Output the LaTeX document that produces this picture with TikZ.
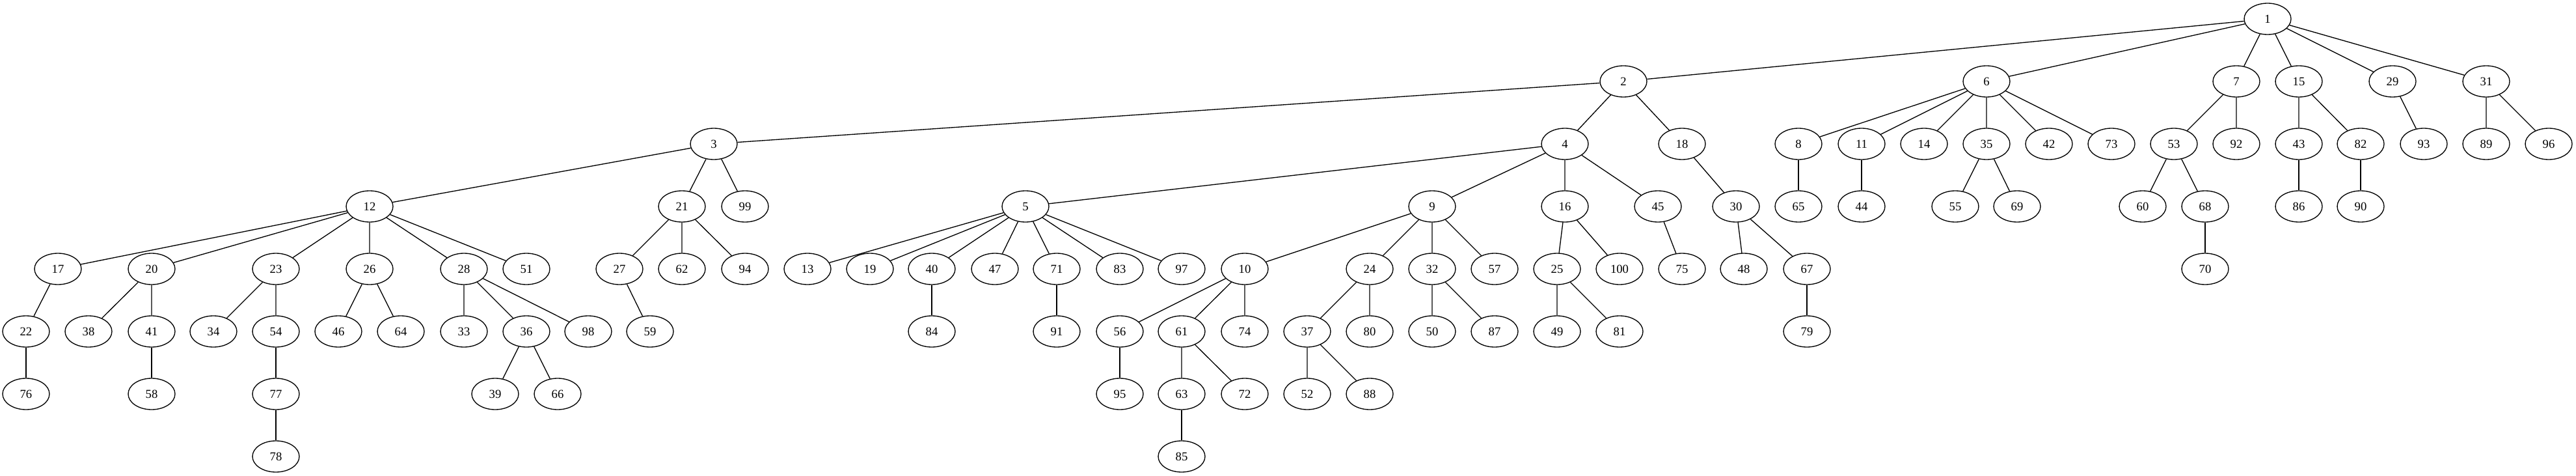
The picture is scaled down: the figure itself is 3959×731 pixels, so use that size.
\documentclass[tikz,border=0pt]{standalone}
\usepackage{fontspec}
\setmainfont{Liberation Serif}
\usetikzlibrary{shapes.geometric}

\begin{document}
\begin{tikzpicture}[
    x=0.75pt, y=-0.75pt,
    vertex/.style={ellipse, draw, line width=1pt, minimum width=54pt, minimum height=36pt, inner sep=0pt, font=\fontsize{14pt}{16pt}\selectfont},
    link/.style={draw, line width=1pt}
  ]
  \useasboundingbox (0,0) rectangle (3959,731);

  % Level 0
  \node (n1) [vertex] at (3485,29) {1};

  % Level 1
  \node (n2) [vertex] at (2495,125) {2};
  \node (n6) [vertex] at (3053,125) {6};
  \node (n7) [vertex] at (3437,125) {7};
  \node (n15) [vertex] at (3533,125) {15};
  \node (n29) [vertex] at (3677,125) {29};
  \node (n31) [vertex] at (3821,125) {31};

  % Level 2
  \node (n3) [vertex] at (1097,221) {3};
  \node (n4) [vertex] at (2405,221) {4};
  \node (n18) [vertex] at (2585,221) {18};
  \node (n8) [vertex] at (2764,221) {8};
  \node (n11) [vertex] at (2861,221) {11};
  \node (n14) [vertex] at (2957,221) {14};
  \node (n35) [vertex] at (3053,221) {35};
  \node (n42) [vertex] at (3149,221) {42};
  \node (n73) [vertex] at (3245,221) {73};
  \node (n53) [vertex] at (3341,221) {53};
  \node (n92) [vertex] at (3437,221) {92};
  \node (n43) [vertex] at (3533,221) {43};
  \node (n82) [vertex] at (3628,221) {82};
  \node (n93) [vertex] at (3725,221) {93};
  \node (n89) [vertex] at (3821,221) {89};
  \node (n96) [vertex] at (3917,221) {96};

  % Level 3
  \node (n12) [vertex] at (568,317) {12};
  \node (n21) [vertex] at (1048,317) {21};
  \node (n99) [vertex] at (1145,317) {99};
  \node (n5) [vertex] at (1576,317) {5};
  \node (n9) [vertex] at (2201,317) {9};
  \node (n16) [vertex] at (2405,317) {16};
  \node (n45) [vertex] at (2548,317) {45};
  \node (n30) [vertex] at (2668,317) {30};
  \node (n65) [vertex] at (2764,317) {65};
  \node (n44) [vertex] at (2861,317) {44};
  \node (n55) [vertex] at (3005,317) {55};
  \node (n69) [vertex] at (3100,317) {69};
  \node (n60) [vertex] at (3293,317) {60};
  \node (n68) [vertex] at (3389,317) {68};
  \node (n86) [vertex] at (3533,317) {86};
  \node (n90) [vertex] at (3628,317) {90};

  % Level 4
  \node (n17) [vertex] at (89,413) {17};
  \node (n20) [vertex] at (233,413) {20};
  \node (n23) [vertex] at (424,413) {23};
  \node (n26) [vertex] at (568,413) {26};
  \node (n28) [vertex] at (713,413) {28};
  \node (n51) [vertex] at (809,413) {51};
  \node (n27) [vertex] at (952,413) {27};
  \node (n62) [vertex] at (1048,413) {62};
  \node (n94) [vertex] at (1145,413) {94};
  \node (n13) [vertex] at (1241,413) {13};
  \node (n19) [vertex] at (1337,413) {19};
  \node (n40) [vertex] at (1432,413) {40};
  \node (n47) [vertex] at (1529,413) {47};
  \node (n71) [vertex] at (1624,413) {71};
  \node (n83) [vertex] at (1721,413) {83};
  \node (n97) [vertex] at (1816,413) {97};
  \node (n10) [vertex] at (1913,413) {10};
  \node (n24) [vertex] at (2105,413) {24};
  \node (n32) [vertex] at (2201,413) {32};
  \node (n57) [vertex] at (2297,413) {57};
  \node (n25) [vertex] at (2393,413) {25};
  \node (n100) [vertex] at (2489,413) {100};
  \node (n75) [vertex] at (2585,413) {75};
  \node (n48) [vertex] at (2680,413) {48};
  \node (n67) [vertex] at (2777,413) {67};
  \node (n70) [vertex] at (3389,413) {70};

  % Level 5
  \node (n22) [vertex] at (40,509) {22};
  \node (n38) [vertex] at (136,509) {38};
  \node (n41) [vertex] at (233,509) {41};
  \node (n34) [vertex] at (328,509) {34};
  \node (n54) [vertex] at (424,509) {54};
  \node (n46) [vertex] at (520,509) {46};
  \node (n64) [vertex] at (616,509) {64};
  \node (n33) [vertex] at (713,509) {33};
  \node (n36) [vertex] at (809,509) {36};
  \node (n98) [vertex] at (904,509) {98};
  \node (n59) [vertex] at (999,509) {59};
  \node (n84) [vertex] at (1432,509) {84};
  \node (n91) [vertex] at (1624,509) {91};
  \node (n56) [vertex] at (1721,509) {56};
  \node (n61) [vertex] at (1816,509) {61};
  \node (n74) [vertex] at (1913,509) {74};
  \node (n37) [vertex] at (2009,509) {37};
  \node (n80) [vertex] at (2105,509) {80};
  \node (n50) [vertex] at (2201,509) {50};
  \node (n87) [vertex] at (2297,509) {87};
  \node (n49) [vertex] at (2393,509) {49};
  \node (n81) [vertex] at (2489,509) {81};
  \node (n79) [vertex] at (2777,509) {79};

  % Level 6
  \node (n76) [vertex] at (40,605) {76};
  \node (n58) [vertex] at (233,605) {58};
  \node (n77) [vertex] at (424,605) {77};
  \node (n39) [vertex] at (761,605) {39};
  \node (n66) [vertex] at (857,605) {66};
  \node (n95) [vertex] at (1721,605) {95};
  \node (n63) [vertex] at (1816,605) {63};
  \node (n72) [vertex] at (1913,605) {72};
  \node (n52) [vertex] at (2009,605) {52};
  \node (n88) [vertex] at (2105,605) {88};

  % Level 7
  \node (n78) [vertex] at (424,701) {78};
  \node (n85) [vertex] at (1816,701) {85};

  % Edges
  \draw [link] (n1) -- (n2) (n1) -- (n6) (n1) -- (n7) (n1) -- (n15) (n1) -- (n29) (n1) -- (n31);
  \draw [link] (n2) -- (n3) (n2) -- (n4) (n2) -- (n18);
  \draw [link] (n6) -- (n8) (n6) -- (n11) (n6) -- (n14) (n6) -- (n35) (n6) -- (n42) (n6) -- (n73);
  \draw [link] (n7) -- (n53) (n7) -- (n92);
  \draw [link] (n15) -- (n43) (n15) -- (n82);
  \draw [link] (n29) -- (n93);
  \draw [link] (n31) -- (n89) (n31) -- (n96);
  \draw [link] (n3) -- (n12) (n3) -- (n21) (n3) -- (n99);
  \draw [link] (n4) -- (n5) (n4) -- (n9) (n4) -- (n16) (n4) -- (n45);
  \draw [link] (n18) -- (n30);
  \draw [link] (n8) -- (n65);
  \draw [link] (n11) -- (n44);
  \draw [link] (n35) -- (n55) (n35) -- (n69);
  \draw [link] (n53) -- (n60) (n53) -- (n68);
  \draw [link] (n43) -- (n86);
  \draw [link] (n82) -- (n90);
  \draw [link] (n12) -- (n17) (n12) -- (n20) (n12) -- (n23) (n12) -- (n26) (n12) -- (n28) (n12) -- (n51);
  \draw [link] (n21) -- (n27) (n21) -- (n62) (n21) -- (n94);
  \draw [link] (n5) -- (n13) (n5) -- (n19) (n5) -- (n40) (n5) -- (n47) (n5) -- (n71) (n5) -- (n83) (n5) -- (n97);
  \draw [link] (n9) -- (n10) (n9) -- (n24) (n9) -- (n32) (n9) -- (n57);
  \draw [link] (n16) -- (n25) (n16) -- (n100);
  \draw [link] (n45) -- (n75);
  \draw [link] (n30) -- (n48) (n30) -- (n67);
  \draw [link] (n68) -- (n70);
  \draw [link] (n17) -- (n22);
  \draw [link] (n20) -- (n38) (n20) -- (n41);
  \draw [link] (n23) -- (n34) (n23) -- (n54);
  \draw [link] (n26) -- (n46) (n26) -- (n64);
  \draw [link] (n28) -- (n33) (n28) -- (n36) (n28) -- (n98);
  \draw [link] (n27) -- (n59);
  \draw [link] (n40) -- (n84);
  \draw [link] (n71) -- (n91);
  \draw [link] (n10) -- (n56) (n10) -- (n61) (n10) -- (n74);
  \draw [link] (n24) -- (n37) (n24) -- (n80);
  \draw [link] (n32) -- (n50) (n32) -- (n87);
  \draw [link] (n25) -- (n49) (n25) -- (n81);
  \draw [link] (n67) -- (n79);
  \draw [link] (n22) -- (n76);
  \draw [link] (n41) -- (n58);
  \draw [link] (n54) -- (n77);
  \draw [link] (n36) -- (n39) (n36) -- (n66);
  \draw [link] (n56) -- (n95);
  \draw [link] (n61) -- (n63) (n61) -- (n72);
  \draw [link] (n37) -- (n52) (n37) -- (n88);
  \draw [link] (n77) -- (n78);
  \draw [link] (n63) -- (n85);

\end{tikzpicture}
\end{document}
